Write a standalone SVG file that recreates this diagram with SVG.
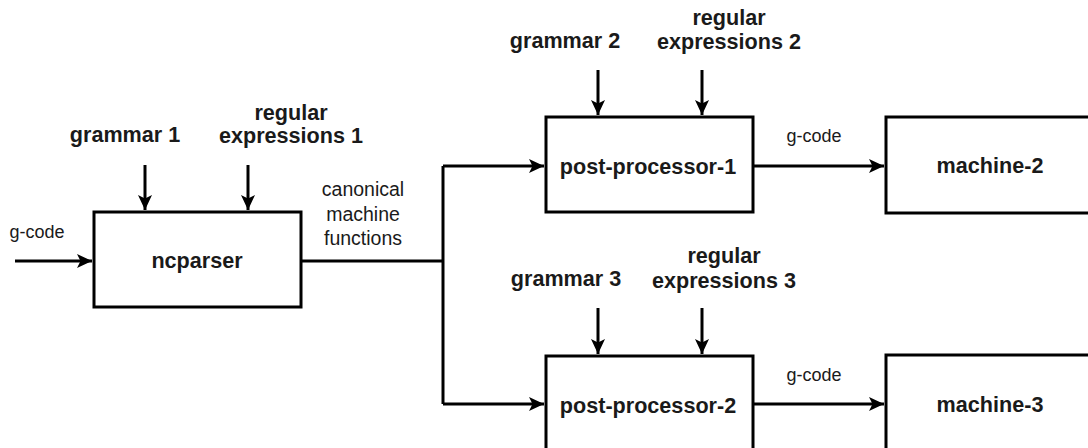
<svg xmlns="http://www.w3.org/2000/svg" width="1088" height="448" viewBox="0 0 1088 448">
<defs>
<marker id="arr" markerUnits="userSpaceOnUse" markerWidth="17" markerHeight="17" viewBox="0 0 17 17" refX="16" refY="8.5" orient="auto">
<path d="M1,1.5 L16,8.5 L1,15.5 L4.5,8.5 Z" fill="#000"/>
</marker>
</defs>
<style>
.box{fill:#fff;stroke:#000;stroke-width:3}
.b{font-family:"Liberation Sans",Arial,sans-serif;font-weight:bold;font-size:21.6px;fill:#1a1a1a;text-anchor:middle}
.n{font-family:"Liberation Sans",Arial,sans-serif;font-size:18px;fill:#1a1a1a;text-anchor:middle}
.c{fill:none;stroke:#000;stroke-width:3}
</style>
<rect width="1088" height="448" fill="#fff"/>
<g id="connectors">
<path class="c" d="M15,261 H92" marker-end="url(#arr)"/>
<path class="c" d="M145,165 V210" marker-end="url(#arr)"/>
<path class="c" d="M248,165 V210" marker-end="url(#arr)"/>
<path class="c" d="M301,261 H443"/>
<path class="c" d="M443,166 V404"/>
<path class="c" d="M443,166 H544" marker-end="url(#arr)"/>
<path class="c" d="M443,404 H544" marker-end="url(#arr)"/>
<path class="c" d="M598,70 V115" marker-end="url(#arr)"/>
<path class="c" d="M702,70 V115" marker-end="url(#arr)"/>
<path class="c" d="M598,308 V354" marker-end="url(#arr)"/>
<path class="c" d="M702,308 V354" marker-end="url(#arr)"/>
<path class="c" d="M753,166 H884" marker-end="url(#arr)"/>
<path class="c" d="M753,404 H884" marker-end="url(#arr)"/>
<text class="n" x="37" y="238">g-code</text>
<text class="n" x="814" y="142">g-code</text>
<text class="n" x="814" y="381">g-code</text>
<text class="n" x="363" y="196" style="font-size:19.5px">canonical</text>
<text class="n" x="363" y="221" style="font-size:19.5px">machine</text>
<text class="n" x="363" y="245" style="font-size:19.5px">functions</text>
</g>
<g id="ncparser">
<rect class="box" x="94" y="212" width="207" height="95"/>
<text class="b" x="197" y="268">ncparser</text>
</g>
<g id="grammar1"><text class="b" x="125" y="142">grammar 1</text></g>
<g id="regex1"><text class="b" x="291" y="120">regular</text><text class="b" x="291" y="143">expressions 1</text></g>
<g id="pp1">
<rect class="box" x="546" y="117" width="207" height="95"/>
<text class="b" x="648" y="174">post-processor-1</text>
</g>
<g id="grammar2"><text class="b" x="565" y="48">grammar 2</text></g>
<g id="regex2"><text class="b" x="729" y="25">regular</text><text class="b" x="729" y="49">expressions 2</text></g>
<g id="pp2">
<rect class="box" x="546" y="356" width="207" height="95"/>
<text class="b" x="648" y="413">post-processor-2</text>
</g>
<g id="grammar3"><text class="b" x="566" y="286">grammar 3</text></g>
<g id="regex3"><text class="b" x="724" y="263">regular</text><text class="b" x="724" y="288">expressions 3</text></g>
<g id="machine2">
<rect class="box" x="886" y="117" width="210" height="96"/>
<text class="b" x="990" y="173">machine-2</text>
</g>
<g id="machine3">
<rect class="box" x="886" y="355" width="210" height="96"/>
<text class="b" x="990" y="412">machine-3</text>
</g>
</svg>
